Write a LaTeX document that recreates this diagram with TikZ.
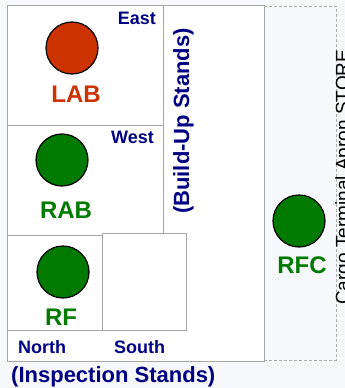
\documentclass[tikz,border=0pt]{standalone}
\usepackage{fontspec}
\setmainfont{Liberation Sans}
\definecolor{navy}{HTML}{000082}
\definecolor{labred}{HTML}{CC3300}
\definecolor{okgreen}{HTML}{007A00}
\definecolor{boxgray}{HTML}{A6A6A6}
\definecolor{dashgray}{HTML}{B0B0B0}
\definecolor{bg}{HTML}{F7F8FC}
\begin{document}
\begin{tikzpicture}[x=1pt,y=-1pt,
  box/.style={draw=boxgray,line width=0.9pt,fill=white},
  dot/.style={circle,draw=black,line width=1.2pt,minimum size=52pt,inner sep=0pt},
  lbl/.style={font=\bfseries\fontsize{24}{24}\selectfont,inner sep=0pt,anchor=base},
  dir/.style={font=\bfseries\fontsize{18}{18}\selectfont,text=navy,inner sep=0pt},
  stands/.style={font=\bfseries\fontsize{22}{22}\selectfont,text=navy,inner sep=0pt},
]
\fill[bg] (0,0) rectangle (345,388);
\useasboundingbox (0,0) rectangle (345,388);
% outer area
\draw[box] (7,5) rectangle (264,361);
\draw[dashgray,line width=0.9pt,dash pattern=on 3pt off 2pt] (264,6) -- (336,6) -- (336,360) -- (264,360);
% stands
\draw[box] (7,5) rectangle (163,125);
\draw[box] (7,125) rectangle (163,235);
\draw[box] (102,233) rectangle (186,330);
\draw[box] (7,235) rectangle (102,330);
% circles
\node[dot,fill=labred] (lab) at (72,48) {};
\node[dot,fill=okgreen] (rab) at (62,160) {};
\node[dot,fill=okgreen] (rf) at (63,272) {};
\node[dot,fill=okgreen] (rfc) at (299,221) {};
% labels
\node[lbl,text=labred] (labt) at (76,102) {LAB};
\node[lbl,text=okgreen] (rabt) at (66,218) {RAB};
\node[lbl,text=okgreen] (rft) at (61,325) {RF};
\node[lbl,text=okgreen] (rfct) at (302,273) {RFC};
\node[dir,anchor=base east] (east) at (156,24) {East};
\node[dir,anchor=base east] (west) at (154,143) {West};
\node[dir,anchor=base west] (north) at (18,353) {North};
\node[dir,anchor=base west] (south) at (114,353) {South};
\node[stands,rotate=90,anchor=base] (build) at (189,121) {(Build-Up Stands)};
\node[stands,anchor=base west] (insp) at (11,382) {(Inspection Stands)};
% clipped text at right edge
\begin{scope}
\clip (0,0) rectangle (345,388);
\node[rotate=90,anchor=base west,inner sep=0pt,font=\fontsize{19}{19}\selectfont] (edge) at (349,305) {Cargo Terminal Apron STORE};
\end{scope}
\end{tikzpicture}
\end{document}
